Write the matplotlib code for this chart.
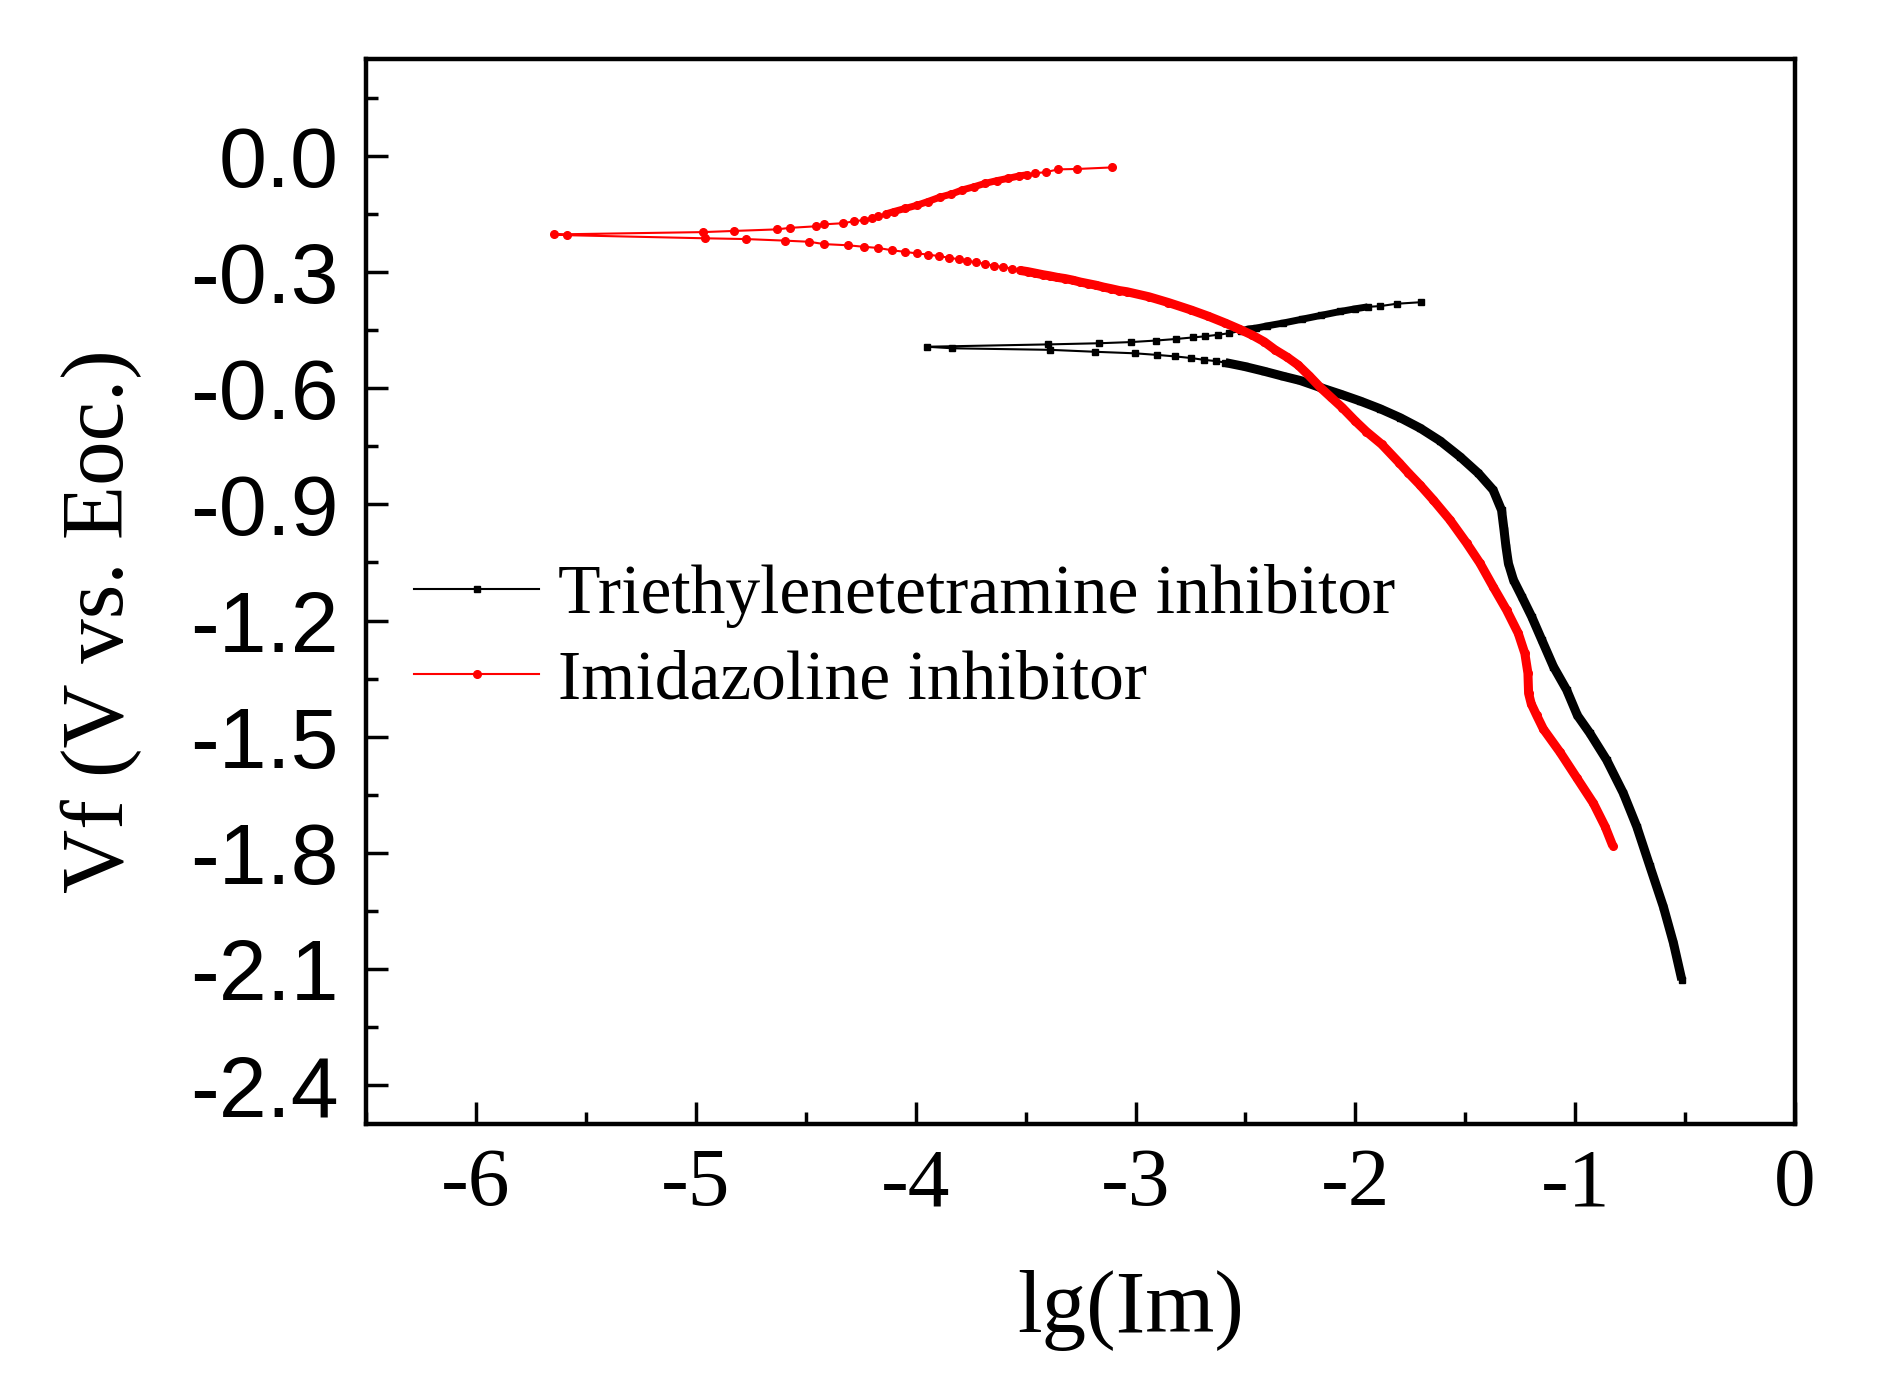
import matplotlib
matplotlib.use("Agg")
import matplotlib.pyplot as plt
from matplotlib.ticker import MultipleLocator

# Triethylenetetramine inhibitor: cathodic branch (from -2.13 V up), then anodic branch
tri_cath_x = [-0.515, -0.553, -0.599, -0.660, -0.720, -0.781, -0.857, -0.933, -0.990, -1.039,
              -1.099, -1.152, -1.198, -1.243, -1.281, -1.304, -1.315, -1.324, -1.335, -1.373,
              -1.440, -1.524, -1.615, -1.706, -1.797, -1.888, -1.979, -2.070, -2.161, -2.252,
              -2.330, -2.417, -2.504, -2.591, -2.635, -2.687, -2.749, -2.820, -2.904, -3.002,
              -3.185, -3.389, -3.833]
tri_cath_y = [-2.128, -2.033, -1.939, -1.835, -1.732, -1.646, -1.560, -1.491, -1.445, -1.379,
              -1.319, -1.250, -1.190, -1.138, -1.095, -1.052, -1.009, -0.965, -0.915, -0.863,
              -0.820, -0.777, -0.736, -0.703, -0.676, -0.653, -0.633, -0.615, -0.598, -0.580,
              -0.569, -0.556, -0.544, -0.534, -0.530, -0.527, -0.522, -0.518, -0.514, -0.510,
              -0.506, -0.501, -0.497]
tri_anod_x = [-3.950, -3.399, -3.166, -3.022, -2.907, -2.816, -2.740, -2.682, -2.623, -2.574,
              -2.520, -2.484, -2.452, -2.400, -2.330, -2.243, -2.156, -2.069, -2.000, -1.944,
              -1.886, -1.812, -1.701]
tri_anod_y = [-0.493, -0.487, -0.484, -0.481, -0.477, -0.473, -0.469, -0.466, -0.462, -0.458,
              -0.452, -0.447, -0.445, -0.439, -0.432, -0.422, -0.412, -0.402, -0.395, -0.390,
              -0.388, -0.382, -0.378]

# Imidazoline inhibitor
imi_cath_x = [-0.829, -0.864, -0.917, -0.993, -1.069, -1.145, -1.176, -1.200, -1.212, -1.215,
              -1.229, -1.259, -1.312, -1.373, -1.433, -1.494, -1.570, -1.645, -1.706, -1.760,
              -1.800, -1.880, -1.950, -2.000, -2.060, -2.110, -2.156, -2.210, -2.261, -2.310,
              -2.365, -2.415, -2.469, -2.530, -2.591, -2.670, -2.748, -2.850, -2.939, -3.039,
              -3.073, -3.112, -3.146, -3.181, -3.216, -3.251, -3.286, -3.320, -3.355, -3.390,
              -3.421, -3.456, -3.491, -3.526, -3.564, -3.604, -3.643, -3.683, -3.726, -3.766,
              -3.805, -3.850, -3.895, -3.944, -3.996, -4.048, -4.107, -4.170, -4.234, -4.309,
              -4.417, -4.483, -4.596, -4.771, -4.957, -5.585]
imi_cath_y = [-1.782, -1.732, -1.672, -1.606, -1.540, -1.480, -1.444, -1.415, -1.388, -1.336,
              -1.285, -1.233, -1.173, -1.113, -1.052, -1.000, -0.940, -0.889, -0.850, -0.818,
              -0.793, -0.745, -0.712, -0.685, -0.650, -0.624, -0.600, -0.568, -0.540, -0.520,
              -0.501, -0.480, -0.463, -0.447, -0.432, -0.414, -0.398, -0.379, -0.364, -0.351,
              -0.348, -0.343, -0.339, -0.334, -0.330, -0.326, -0.321, -0.317, -0.314, -0.310,
              -0.307, -0.303, -0.299, -0.296, -0.291, -0.287, -0.284, -0.279, -0.275, -0.271,
              -0.267, -0.263, -0.259, -0.255, -0.252, -0.248, -0.244, -0.238, -0.235, -0.231,
              -0.228, -0.222, -0.219, -0.215, -0.213, -0.205]
imi_anod_x = [-5.646, -4.968, -4.826, -4.632, -4.571, -4.454, -4.417, -4.330, -4.281, -4.236,
              -4.200, -4.170, -4.135, -4.100, -4.048, -3.996, -3.944, -3.891, -3.839, -3.787,
              -3.735, -3.683, -3.630, -3.578, -3.529, -3.495, -3.456, -3.407, -3.352, -3.265,
              -3.108]
imi_anod_y = [-0.203, -0.197, -0.194, -0.190, -0.186, -0.182, -0.177, -0.174, -0.169, -0.166,
              -0.160, -0.155, -0.150, -0.144, -0.136, -0.128, -0.118, -0.107, -0.099, -0.088,
              -0.080, -0.071, -0.064, -0.058, -0.052, -0.049, -0.045, -0.042, -0.035, -0.034,
              -0.030]

labels = ["Triethylenetetramine inhibitor", "Imidazoline inhibitor"]

serif = ["Liberation Serif", "DejaVu Serif"]
sans = ["Liberation Sans", "DejaVu Sans"]

fig = plt.figure(figsize=(18.82, 13.88), dpi=100)
ax = fig.add_axes([0.1945, 0.1902, 0.7593, 0.7673])

# data curves, thin line + markers
ax.plot(tri_cath_x + tri_anod_x, tri_cath_y + tri_anod_y, color="black", lw=1.5,
        marker="s", ms=5, label=labels[0])
ax.plot(imi_cath_x + imi_anod_x, imi_cath_y + imi_anod_y, color="red", lw=1.5,
        marker="o", ms=5.5, label=labels[1])

# where the measured points are packed tight the markers merge into a thick band
ax.plot(tri_cath_x[:34], tri_cath_y[:34], color="black", lw=6.5, solid_capstyle="butt")
ax.plot(tri_anod_x[10:20], tri_anod_y[10:20], color="black", lw=5, solid_capstyle="butt")
ax.plot(imi_cath_x[:54], imi_cath_y[:54], color="red", lw=6.5, solid_capstyle="butt")
ax.plot(imi_anod_x[12:26], imi_anod_y[12:26], color="red", lw=5, solid_capstyle="butt")

ax.set_xlim(-6.5, 0)
ax.set_ylim(-2.5, 0.25)
ax.xaxis.set_minor_locator(MultipleLocator(0.5))
ax.yaxis.set_minor_locator(MultipleLocator(0.15))
ax.set_yticks([0.0, -0.3, -0.6, -0.9, -1.2, -1.5, -1.8, -2.1, -2.4])
ax.set_yticklabels(["0.0", "-0.3", "-0.6", "-0.9", "-1.2", "-1.5", "-1.8", "-2.1", "-2.4"])
ax.set_xticks([-6, -5, -4, -3, -2, -1, 0])
ax.set_xticklabels(["-6", "-5", "-4", "-3", "-2", "-1", "0"])

ax.tick_params(which="both", direction="in", top=False, right=False, width=2.5)
ax.tick_params(which="major", length=16)
ax.tick_params(which="minor", length=8.6)
ax.tick_params(axis="x", pad=17)
ax.tick_params(axis="y", pad=20)
for t in ax.get_xticklabels():
    t.set_fontfamily(serif)
    t.set_fontsize(60)
for t in ax.get_yticklabels():
    t.set_fontfamily(sans)
    t.set_fontsize(62)

for s in ax.spines.values():
    s.set_linewidth(3.2)

ax.set_xlabel("lg(Im)", fontsize=64, family=serif)
ax.set_ylabel("Vf (V vs. Eoc.)", fontsize=64, family=serif)
ax.xaxis.set_label_coords(0.535, -0.137)
ax.yaxis.set_label_coords(-0.157, 0.472)

leg = ax.legend(loc="center left", bbox_to_anchor=(0.22, 0.5398), bbox_transform=fig.transFigure,
                frameon=False, numpoints=1, handlelength=1.8, handletextpad=0.28,
                labelspacing=0.32, borderpad=0, borderaxespad=0,
                prop={"family": serif, "size": 50})

fig.savefig("out.png", dpi=100)
